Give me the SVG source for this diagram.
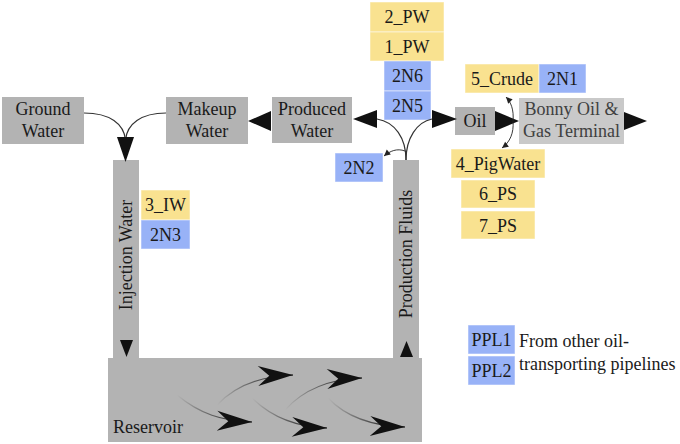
<svg xmlns="http://www.w3.org/2000/svg" width="680" height="444" viewBox="0 0 680 444">
<defs>
<style>
svg text, svg g text, g[id] text, text{font-family:'Liberation Serif','Times New Roman',serif !important;font-size:18px;fill:#1a1a1a;text-anchor:middle}
.g{fill:#b3b3b3}
.lg{fill:#c9c9c9}
.y{fill:#f9e290;stroke:#fff;stroke-opacity:0.5}
.b{fill:#98b2f7;stroke:#fff;stroke-opacity:0.5}
.ln{fill:none;stroke:#333;stroke-width:1.2}
.thin{fill:none;stroke:#222;stroke-width:0.9}
.head{fill:#111}
.flow{fill:none;stroke:url(#fade);stroke-width:1.2}
</style>
<linearGradient id="fade" x1="0" y1="0" x2="1" y2="0">
<stop offset="0" stop-color="#000" stop-opacity="0"/>
<stop offset="1" stop-color="#000" stop-opacity="1"/>
</linearGradient>
<marker id="barb" markerUnits="userSpaceOnUse" markerWidth="40" markerHeight="30" viewBox="-30 -12 32 24" refX="0" refY="0" orient="auto" overflow="visible">
<path d="M0,0 L-28,-8 L-19,0 L-28,8 Z" fill="#111"/>
</marker>
<marker id="small" markerUnits="userSpaceOnUse" markerWidth="10" markerHeight="10" viewBox="-6 -4 7 8" refX="0" refY="0" orient="auto" overflow="visible">
<path d="M0,0 L-5,-2.5 L-5,2.5 Z" fill="#222"/>
</marker>
</defs>
<g id="reservoir">
<rect class="g" x="108" y="358" width="314" height="84"/>
<text style="font-family:'Liberation Serif',serif !important" font-family="Liberation Serif" x="148" y="433">Reservoir</text>
</g>
<g id="injection-water">
<rect class="g" x="113" y="160" width="26" height="198"/>
<text style="font-family:'Liberation Serif',serif !important" font-family="Liberation Serif" x="126" y="261" transform="rotate(-90 126 255)">Injection Water</text>
<path class="head" d="M120,340 L133,340 L126.5,357 Z"/>
</g>
<g id="production-fluids">
<rect class="g" x="393" y="160" width="26" height="198"/>
<text style="font-family:'Liberation Serif',serif !important" font-family="Liberation Serif" x="406" y="260" transform="rotate(-90 406 254)">Production Fluids</text>
<path class="head" d="M400,357 L413,357 L406.5,341 Z"/>
</g>
<g id="ground-water">
<rect class="g" x="2" y="97" width="82" height="47"/>
<text style="font-family:'Liberation Serif',serif !important" font-family="Liberation Serif" x="43" y="115">Ground</text>
<text style="font-family:'Liberation Serif',serif !important" font-family="Liberation Serif" x="43" y="137">Water</text>
</g>
<g id="makeup-water">
<rect class="g" x="166" y="97" width="82" height="47"/>
<text style="font-family:'Liberation Serif',serif !important" font-family="Liberation Serif" x="207" y="115">Makeup</text>
<text style="font-family:'Liberation Serif',serif !important" font-family="Liberation Serif" x="207" y="137">Water</text>
</g>
<g id="produced-water">
<rect class="g" x="272" y="97" width="80" height="46"/>
<text style="font-family:'Liberation Serif',serif !important" font-family="Liberation Serif" x="312" y="115">Produced</text>
<text style="font-family:'Liberation Serif',serif !important" font-family="Liberation Serif" x="312" y="137">Water</text>
</g>
<g id="oil">
<rect class="g" x="455" y="107" width="40" height="28"/>
<text style="font-family:'Liberation Serif',serif !important" font-family="Liberation Serif" x="475" y="127">Oil</text>
</g>
<g id="bonny">
<rect class="lg" x="519" y="98" width="105" height="46"/>
<text style="font-family:'Liberation Serif',serif !important;fill:#404040" font-family="Liberation Serif" x="571.5" y="115">Bonny Oil &amp;</text>
<text style="font-family:'Liberation Serif',serif !important;fill:#404040" font-family="Liberation Serif" x="571.5" y="137">Gas Terminal</text>
</g>
<g id="pw-2">
<rect class="y" x="370" y="2" width="74" height="30"/>
<text style="font-family:'Liberation Serif',serif !important" font-family="Liberation Serif" x="407" y="23">2_PW</text>
</g>
<g id="pw-1">
<rect class="y" x="370" y="32" width="74" height="29"/>
<text style="font-family:'Liberation Serif',serif !important" font-family="Liberation Serif" x="407" y="53">1_PW</text>
</g>
<g id="n-2N6">
<rect class="b" x="384" y="61" width="47" height="30"/>
<text style="font-family:'Liberation Serif',serif !important" font-family="Liberation Serif" x="407.5" y="82">2N6</text>
</g>
<g id="n-2N5">
<rect class="b" x="384" y="91" width="47" height="29"/>
<text style="font-family:'Liberation Serif',serif !important" font-family="Liberation Serif" x="407.5" y="112">2N5</text>
</g>
<g id="n-2N2">
<rect class="b" x="335" y="153" width="48" height="29"/>
<text style="font-family:'Liberation Serif',serif !important" font-family="Liberation Serif" x="359" y="174">2N2</text>
</g>
<g id="crude-5">
<rect class="y" x="465" y="64" width="74" height="29"/>
<text style="font-family:'Liberation Serif',serif !important" font-family="Liberation Serif" x="502" y="85">5_Crude</text>
</g>
<g id="n-2N1">
<rect class="b" x="539" y="64" width="47" height="29"/>
<text style="font-family:'Liberation Serif',serif !important" font-family="Liberation Serif" x="562.5" y="85">2N1</text>
</g>
<g id="pigwater-4">
<rect class="y" x="451" y="149" width="94" height="29"/>
<text style="font-family:'Liberation Serif',serif !important" font-family="Liberation Serif" x="498" y="170">4_PigWater</text>
</g>
<g id="ps-6">
<rect class="y" x="461" y="180" width="74" height="28"/>
<text style="font-family:'Liberation Serif',serif !important" font-family="Liberation Serif" x="498" y="200">6_PS</text>
</g>
<g id="ps-7">
<rect class="y" x="461" y="211" width="74" height="28"/>
<text style="font-family:'Liberation Serif',serif !important" font-family="Liberation Serif" x="498" y="232">7_PS</text>
</g>
<g id="iw-3">
<rect class="y" x="141" y="190" width="49" height="30"/>
<text style="font-family:'Liberation Serif',serif !important" font-family="Liberation Serif" x="165.5" y="211">3_IW</text>
</g>
<g id="n-2N3">
<rect class="b" x="141" y="220" width="49" height="29"/>
<text style="font-family:'Liberation Serif',serif !important" font-family="Liberation Serif" x="165.5" y="241">2N3</text>
</g>
<g id="ppl1">
<rect class="b" x="468" y="325" width="47" height="29"/>
<text style="font-family:'Liberation Serif',serif !important" font-family="Liberation Serif" x="491.5" y="346">PPL1</text>
</g>
<g id="ppl2">
<rect class="b" x="468" y="356" width="47" height="29"/>
<text style="font-family:'Liberation Serif',serif !important" font-family="Liberation Serif" x="491.5" y="377">PPL2</text>
</g>
<g id="legend-text">
<text style="font-family:'Liberation Serif',serif !important;text-anchor:start" font-family="Liberation Serif" x="519" y="347">From other oil-</text>
<text style="font-family:'Liberation Serif',serif !important;text-anchor:start" font-family="Liberation Serif" x="519" y="370">transporting pipelines</text>
</g>
<g id="connectors">
<path class="ln" d="M84,113 C110,113 124,124 125.5,140"/>
<path class="ln" d="M166,113 C141,113 127,124 125.5,140"/>
<path class="head" d="M117,137 L134,137 L125.5,162 Z"/>
<path class="head" d="M248,121 L271,111 L271,131 Z"/>
<path class="ln" d="M406,160 C406,138 395,122 377,119"/>
<path class="ln" d="M406,160 C406,138 417,122 432,119"/>
<path class="head" d="M353,119 L377,110 L377,128 Z"/>
<path class="head" d="M457,119 L432,110 L432,128 Z"/>
<path class="thin" d="M405,151 C397,148 390,151 384,156" marker-end="url(#small)"/>
<path class="head" d="M519,121 L495,111 L495,131 Z"/>
<path class="head" d="M647,121 L624,112 L624,130 Z"/>
<path class="thin" d="M513,121 C514,110 511,102 506,97" marker-end="url(#small)"/>
<path class="thin" d="M513,121 C514,133 510,142 502,148" marker-end="url(#small)"/>
<path class="flow" d="M177,395 C200,414 222,421 252,422" marker-end="url(#barb)"/>
<path class="flow" d="M217,405 C235,386 260,376 293,375" marker-end="url(#barb)"/>
<path class="flow" d="M252,398 C272,418 296,427 327,428" marker-end="url(#barb)"/>
<path class="flow" d="M285,410 C303,390 330,379 362,378" marker-end="url(#barb)"/>
<path class="flow" d="M328,398 C346,417 372,426 405,427" marker-end="url(#barb)"/>
</g>
</svg>
